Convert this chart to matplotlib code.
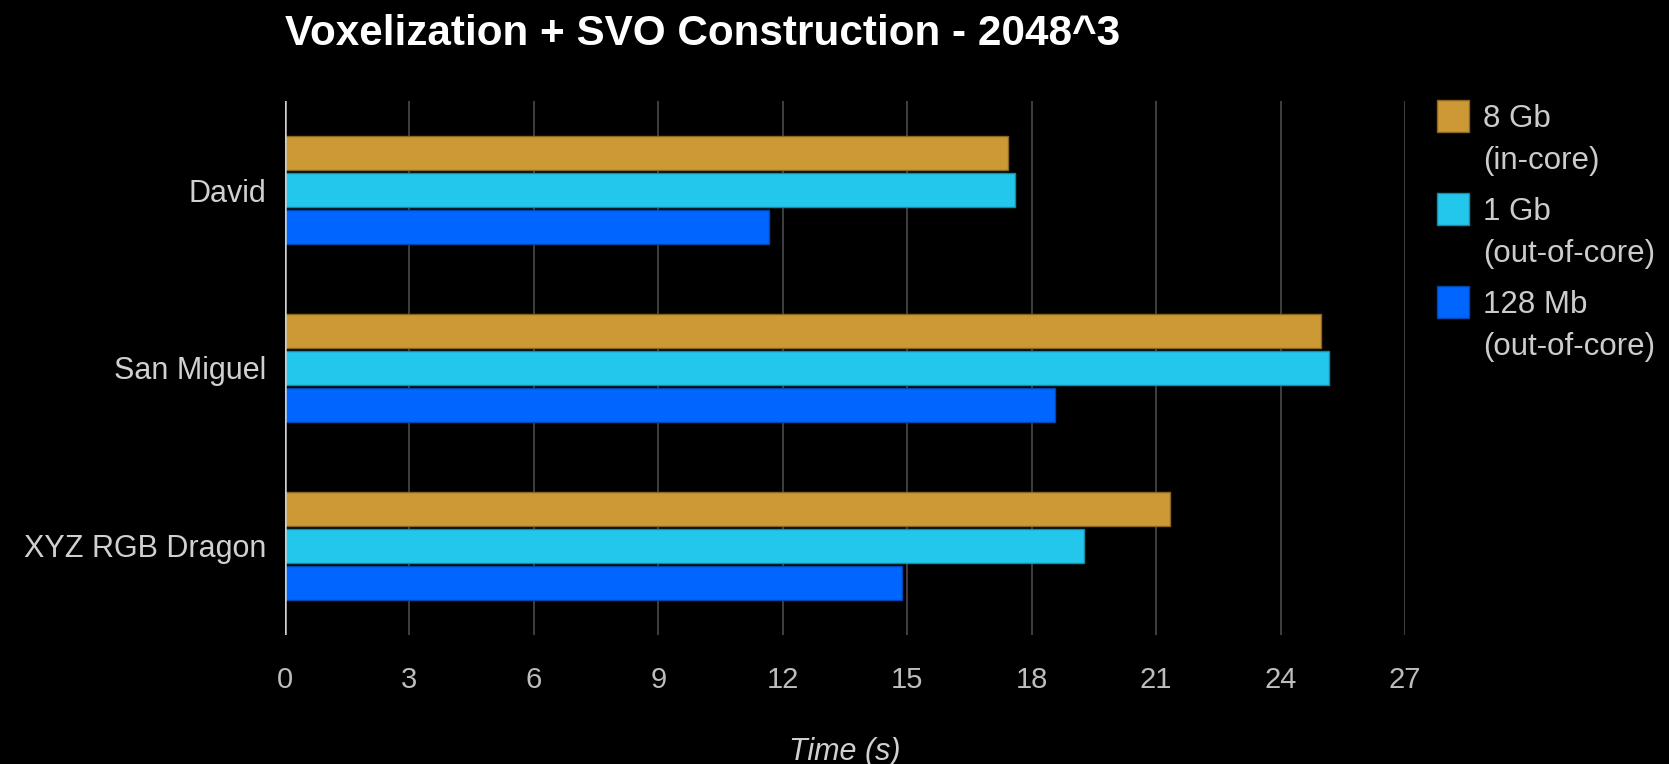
import matplotlib
matplotlib.use("Agg")
import matplotlib.pyplot as plt
from matplotlib.patches import Rectangle
import numpy as np

plt.rcParams['font.family'] = ['Liberation Sans', 'DejaVu Sans']

title = "Voxelization + SVO Construction - 2048^3"
categories = ["David", "San Miguel", "XYZ RGB Dragon"]
series_names = ["8 Gb\n(in-core)", "1 Gb\n(out-of-core)", "128 Mb\n(out-of-core)"]
gb8 = [17.42, 24.97, 21.33]
gb1 = [17.61, 25.16, 19.27]
mb128 = [11.66, 18.56, 14.87]
series_values = [gb8, gb1, mb128]
colors = ["#CD9934", "#23C7EC", "#0066FF"]
edge_colors = ["#8a6620", "#168aa6", "#0046b0"]
xticks = [0, 3, 6, 9, 12, 15, 18, 21, 24, 27]
xlabel = "Time (s)"

W, H = 1669, 764
fig = plt.figure(figsize=(W / 100, H / 100), dpi=100, facecolor="black")
ax = fig.add_axes([285 / W, 1 - 635 / H, (1405 - 285) / W, (635 - 101) / H])
ax.set_facecolor("black")

y = np.arange(len(categories))
pitch = 0.206
height = 0.19
for i, (vals, c, ec) in enumerate(zip(series_values, colors, edge_colors)):
    ax.barh(y + (i - 1) * pitch, vals, height=height, color=c,
            edgecolor=ec, linewidth=1.0, zorder=3)

ax.set_xlim(0, 27)
ax.set_ylim(2.5, -0.5)
ax.set_xticks(xticks)
ax.set_xticklabels([str(t) for t in xticks], fontsize=21, color="#bdbdbd")
ax.set_yticks(y)
ax.set_yticklabels(categories, fontsize=22, color="#d0d0d0")
ax.tick_params(axis="x", length=0, pad=22)
ax.tick_params(axis="y", length=0, pad=13.5)
for s in ax.spines.values():
    s.set_visible(False)
for t in xticks[1:]:
    ax.axvline(t, color="#444444", linewidth=1.3, zorder=1)
ax.axvline(0, color="#cfcfcf", linewidth=1.8, zorder=4)

fig.text(285 / W, 1 - 34 / H, title, fontsize=30.4, fontweight="bold",
         color="white", ha="left", va="center")
fig.text(845 / W, 1 - 752 / H, xlabel, fontsize=22, style="italic",
         color="#d0d0d0", ha="center", va="center")

# legend
for i, (name, c, ec) in enumerate(zip(series_names, colors, edge_colors)):
    top = 100 + i * 93
    fig.add_artist(Rectangle((1437 / W, 1 - (top + 32) / H), 32 / W, 32 / H,
                             facecolor=c, edgecolor=ec, linewidth=1.0,
                             transform=fig.transFigure))
    fig.text(1483 / W, 1 - (top + 4) / H, name, fontsize=22.5, color="#cccccc",
             ha="left", va="top", linespacing=1.52)

fig.savefig("out.png", dpi=100, facecolor="black")
